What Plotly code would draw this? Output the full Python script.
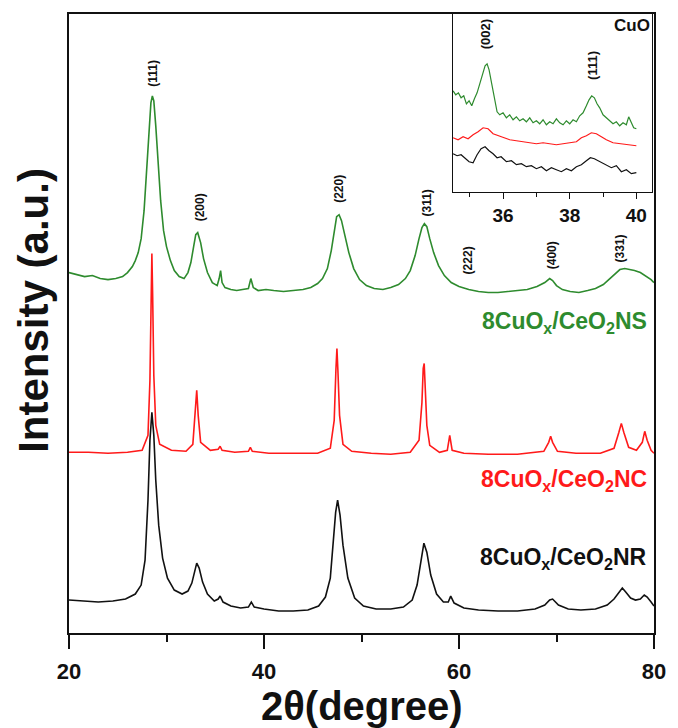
import plotly.graph_objects as go

# ---------------- data (intensity in arbitrary units) ----------------
x_ns = [20, 20.8, 21.6, 22.4, 23.2, 24.0, 24.8, 25.5, 26.0, 26.5, 26.8, 27.1, 27.4, 27.7, 28.0, 28.2, 28.4, 28.55, 28.7, 28.9,
        29.1, 29.4, 29.7, 30.0, 30.4, 30.8, 31.3, 31.8, 32.2, 32.5, 32.8, 33.0, 33.2, 33.5, 33.8, 34.2, 34.7, 35.2, 35.4, 35.55,
        35.7, 36.0, 36.6, 37.2, 37.8, 38.4, 38.65, 38.9, 39.4, 40.2, 41.0, 42.0, 43.0, 44.0, 44.8, 45.5, 46.0, 46.5, 46.9, 47.2,
        47.45, 47.7, 47.95, 48.3, 48.7, 49.2, 49.8, 50.5, 51.3, 52.2, 53.0, 53.8, 54.5, 55.0, 55.5, 55.9, 56.2, 56.45, 56.7, 57.0,
        57.4, 57.9, 58.5, 59.2, 60.0, 61.0, 62.0, 63.0, 64.0, 65.0, 66.0, 67.0, 68.0, 68.8, 69.3, 69.6, 70.0, 70.6, 71.4, 72.3,
        73.2, 74.0, 74.8, 75.5, 76.0, 76.5, 77.0, 77.5, 78.0, 78.6, 79.2, 79.7, 80.0]
y_ns = [358, 356, 354, 355, 352, 351, 352, 354, 358, 364, 370, 378, 392, 420, 470, 505, 528, 535, 530, 505,
        470, 430, 400, 384, 370, 360, 354, 352, 358, 368, 385, 396, 398, 388, 372, 358, 348, 345, 352, 360,
        348, 343, 341, 340, 341, 342, 352, 343, 340, 341, 340, 339, 340, 341, 343, 347, 352, 362, 380, 400,
        414, 416, 410, 395, 378, 362, 351, 345, 342, 341, 343, 346, 352, 360, 375, 392, 403, 407, 404, 392,
        378, 365, 355, 348, 344, 341, 339, 338, 338, 339, 340, 341, 344, 348, 352, 350, 345, 341, 339, 338,
        340, 342, 346, 352, 357, 361, 362, 361, 360, 358, 354, 351, 348]

x_nc = [20, 22, 24, 26, 27.5, 28.1, 28.3, 28.42, 28.5, 28.58, 28.7, 28.9, 29.3, 30.5, 32.0, 32.7, 32.95, 33.1, 33.25, 33.5,
        34.5, 35.3, 35.5, 35.7, 37.0, 38.4, 38.6, 38.8, 40.5, 43.0, 45.5, 46.8, 47.2, 47.38, 47.48, 47.58, 47.75, 48.1, 49.0, 51.0,
        53.0, 55.0, 55.9, 56.2, 56.33, 56.43, 56.53, 56.7, 57.0, 58.0, 58.8, 59.05, 59.3, 60.5, 63.0, 66.0, 68.7, 69.2, 69.4, 69.6,
        70.1, 72.0, 74.5, 75.9, 76.4, 76.65, 76.9, 77.4, 78.2, 78.8, 79.05, 79.3, 79.7, 80.0]
y_nc = [178, 178, 177, 178, 180, 195, 250, 330, 377, 335, 255, 205, 186, 180, 179, 186, 220, 240, 215, 188,
        180, 181, 184, 180, 178, 179, 183, 179, 177, 177, 177, 182, 210, 262, 282, 260, 215, 186, 179, 177,
        176, 178, 190, 228, 262, 267, 245, 205, 185, 178, 180, 195, 180, 177, 176, 176, 179, 188, 194, 188,
        179, 177, 177, 182, 198, 207, 198, 183, 180, 188, 199, 190, 180, 177]

x_nr = [20, 21.5, 23, 24.5, 25.8, 26.8, 27.4, 27.8, 28.1, 28.3, 28.5, 28.7, 28.9, 29.2, 29.6, 30.1, 30.8, 31.6, 32.2, 32.6,
        32.9, 33.1, 33.35, 33.7, 34.2, 34.9, 35.3, 35.5, 35.8, 36.6, 37.6, 38.4, 38.7, 39.0, 40.0, 41.5, 43.0, 44.5, 45.6, 46.3,
        46.8, 47.1, 47.35, 47.55, 47.8, 48.1, 48.6, 49.3, 50.2, 51.5, 53.0, 54.3, 55.2, 55.7, 56.1, 56.4, 56.7, 57.1, 57.7, 58.4,
        58.9, 59.15, 59.5, 60.5, 62.0, 64.0, 66.0, 67.8, 68.8, 69.3, 69.6, 70.2, 71.2, 72.5, 74.0, 75.2, 75.9, 76.4, 76.75, 77.1,
        77.6, 78.1, 78.6, 79.0, 79.3, 79.7, 80.0]
y_nr = [30, 29, 28, 29, 31, 36, 45, 70, 130, 190, 218, 195, 150, 105, 72, 52, 40, 36, 39, 47,
        60, 67, 62, 48, 36, 29, 31, 34, 28, 24, 22, 23, 28, 23, 21, 19, 19, 20, 24, 33,
        52, 85, 118, 130, 115, 85, 52, 32, 24, 21, 21, 23, 30, 45, 72, 87, 78, 55, 36, 28,
        28, 34, 27, 22, 20, 19, 19, 21, 25, 30, 31, 25, 21, 20, 21, 25, 31, 37, 42, 38,
        32, 30, 31, 35, 33, 28, 24]

# inset (CuO region)
x_in_g = [34.5, 34.58, 34.66, 34.74, 34.82, 34.9, 34.98, 35.06, 35.14, 35.22, 35.3, 35.38, 35.46, 35.52, 35.58, 35.66,
          35.74, 35.82, 35.9, 36.0, 36.1, 36.2, 36.3, 36.4, 36.5, 36.6, 36.7, 36.8, 36.9, 37.0, 37.1, 37.2, 37.3, 37.4,
          37.5, 37.6, 37.7, 37.8, 37.9, 38.0, 38.1, 38.2, 38.3, 38.4, 38.5, 38.58, 38.66, 38.74, 38.82, 38.9, 39.0, 39.1,
          39.2, 39.3, 39.4, 39.5, 39.6, 39.7, 39.77, 39.84, 39.92, 40.0]
y_in_g = [101, 97, 99, 94, 96, 88, 91, 86, 93, 99, 108, 118, 126, 128, 122, 108,
          92, 80, 77, 79, 74, 77, 72, 75, 71, 73, 70, 74, 69, 71, 68, 72, 67, 70,
          68, 73, 69, 67, 71, 68, 72, 70, 76, 79, 86, 92, 96, 94, 88, 84, 77, 74,
          70, 68, 70, 66, 69, 67, 75, 70, 64, 63]
x_in_r = [34.5, 34.65, 34.8, 34.95, 35.1, 35.25, 35.4, 35.55, 35.7, 35.85, 36.0, 36.2, 36.4, 36.6, 36.8, 37.0, 37.2,
          37.4, 37.6, 37.8, 38.0, 38.2, 38.35, 38.5, 38.65, 38.8, 38.95, 39.1, 39.3, 39.5, 39.7, 39.85, 40.0]
y_in_r = [54, 52, 55, 53, 57, 60, 64, 63, 58, 56, 54, 52, 51, 50, 49, 48, 49,
          48, 47, 48, 49, 50, 54, 56, 59, 58, 55, 52, 49, 48, 47, 46, 46]
x_in_b = [34.5, 34.62, 34.74, 34.86, 34.98, 35.1, 35.22, 35.34, 35.46, 35.58, 35.7, 35.82, 35.94, 36.1, 36.25, 36.4,
          36.55, 36.7, 36.85, 37.0, 37.15, 37.3, 37.45, 37.6, 37.75, 37.9, 38.05, 38.2, 38.35, 38.5, 38.62, 38.74, 38.86,
          38.98, 39.1, 39.25, 39.4, 39.55, 39.7, 39.85, 40.0]
y_in_b = [38, 36, 37, 33, 30, 29, 37, 43, 45, 41, 38, 34, 35, 30, 31, 27,
          28, 25, 26, 23, 25, 21, 24, 22, 20, 23, 21, 25, 27, 31, 34, 33, 31,
          29, 27, 24, 26, 20, 22, 18, 19]

peak_labels = ["(111)", "(200)", "(220)", "(311)", "(222)", "(400)", "(331)"]
peak_x = [28.6, 33.4, 47.7, 56.7, 60.9, 69.5, 76.5]
peak_y = [558, 423, 442, 428, 370, 375, 382]

inset_labels = ["(002)", "(111)"]
inset_lx = [35.5, 38.7]
inset_ly = [158, 126]

series_names = ["8CuO<sub>x</sub>/CeO<sub>2</sub>NS", "8CuO<sub>x</sub>/CeO<sub>2</sub>NC", "8CuO<sub>x</sub>/CeO<sub>2</sub>NR"]
series_label_y = [308, 150, 72]

for a, b in [(x_ns, y_ns), (x_nc, y_nc), (x_nr, y_nr), (x_in_g, y_in_g), (x_in_r, y_in_r), (x_in_b, y_in_b)]:
    assert len(a) == len(b)

GREEN = "#2e8b2e"
RED = "#ff1a1a"
BLACK = "#111111"
colors = [GREEN, RED, BLACK]
FONT = "Liberation Sans, Arial, sans-serif"


def bfont(size, color="#111"):
    return dict(family=FONT, size=size, color=color, weight="bold")


fig = go.Figure()
for xs, ys, c in [(x_ns, y_ns, GREEN), (x_nc, y_nc, RED), (x_nr, y_nr, BLACK)]:
    fig.add_trace(go.Scatter(x=xs, y=ys, mode="lines", line=dict(color=c, width=1.6), showlegend=False,
                             xaxis="x", yaxis="y"))
for xs, ys, c in [(x_in_g, y_in_g, GREEN), (x_in_r, y_in_r, RED), (x_in_b, y_in_b, BLACK)]:
    fig.add_trace(go.Scatter(x=xs, y=ys, mode="lines", line=dict(color=c, width=1.2), showlegend=False,
                             xaxis="x2", yaxis="y2"))

annotations = []
for t, x, y in zip(peak_labels, peak_x, peak_y):
    annotations.append(dict(text=t, x=x, y=y, xref="x", yref="y", showarrow=False, textangle=-90,
                            font=bfont(12), xanchor="center", yanchor="middle"))
for t, x, y in zip(inset_labels, inset_lx, inset_ly):
    annotations.append(dict(text=t, x=x, y=y, xref="x2", yref="y2", showarrow=False, textangle=-90,
                            font=bfont(13), xanchor="center", yanchor="middle"))
annotations.append(dict(text="CuO", x=0.996, y=0.982, xref="paper", yref="paper", showarrow=False,
                        xanchor="right", yanchor="middle", font=bfont(17)))
for t, y, c in zip(series_names, series_label_y, colors):
    annotations.append(dict(text=t, x=0.9916, y=y, xref="paper", yref="y", showarrow=False,
                            xanchor="right", yanchor="middle", font=bfont(23, c)))
annotations.append(dict(text="Intensity (a.u.)", x=-0.061, y=0.521, xref="paper", yref="paper",
                        showarrow=False, textangle=-90, xanchor="center", yanchor="middle",
                        font=bfont(42)))
annotations.append(dict(text="2θ(degree)", x=0.5, y=-0.118, xref="paper", yref="paper",
                        showarrow=False, xanchor="center", yanchor="middle",
                        font=bfont(40)))

fig.update_layout(
    width=678, height=728,
    margin=dict(l=69, r=16, t=13, b=95),
    paper_bgcolor="white", plot_bgcolor="white",
    annotations=annotations,
    xaxis=dict(range=[20, 80], tick0=20, dtick=20, ticks="outside", ticklen=14, tickwidth=1.6,
               tickcolor="#111", showline=True, linecolor="#111", linewidth=1.6, mirror=True,
               showgrid=False, zeroline=False, ticklabelstandoff=4,
               tickfont=bfont(22),
               minor=dict(dtick=10, tick0=20, ticks="outside", ticklen=7, tickwidth=1.6, tickcolor="#111",
                          showgrid=False)),
    yaxis=dict(range=[-3, 617], showticklabels=False, ticks="", showline=True, linecolor="#111",
               linewidth=1.6, mirror=True, showgrid=False, zeroline=False),
    xaxis2=dict(domain=[0.656, 0.9966], anchor="y2", range=[34.49, 40.47], tick0=36, dtick=2,
                ticks="outside", ticklen=6, tickwidth=1.2, tickcolor="#111",
                showline=True, linecolor="#111", linewidth=1.3, mirror=True, showgrid=False, zeroline=False,
                tickfont=bfont(19),
                minor=dict(dtick=1, tick0=35, ticks="outside", ticklen=4, tickwidth=1.2, tickcolor="#111",
                           showgrid=False)),
    yaxis2=dict(domain=[0.713, 1.0], anchor="x2", range=[0, 178], showticklabels=False, ticks="",
                showline=True, linecolor="#111", linewidth=1.3, mirror=True, showgrid=False, zeroline=False),
)

fig.write_html("out.html")
